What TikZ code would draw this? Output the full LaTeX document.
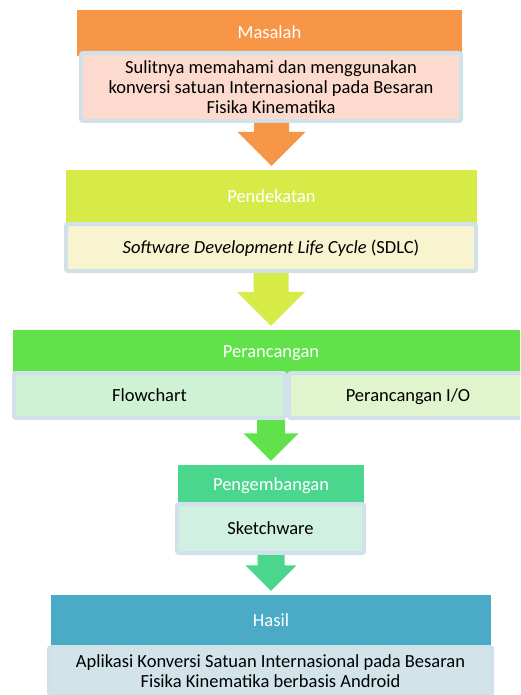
\documentclass[tikz,border=0pt]{standalone}
\usepackage{fontspec}
\setmainfont{Carlito}
\usetikzlibrary{calc}
\definecolor{oranye}{HTML}{F79646}
\definecolor{oranyemuda}{HTML}{FCDBCE}
\definecolor{limau}{HTML}{D7EB48}
\definecolor{limaumuda}{HTML}{F8F4D0}
\definecolor{hijau}{HTML}{61E24B}
\definecolor{hijaumuda}{HTML}{D0F2D4}
\definecolor{hijaukuning}{HTML}{E0F5CE}
\definecolor{toska}{HTML}{4BD68E}
\definecolor{toskamuda}{HTML}{D0F0E2}
\definecolor{biru}{HTML}{4BABC6}
\definecolor{birumuda}{HTML}{D2E3EA}
\definecolor{garis}{HTML}{D1E1E9}
% block arrow: from, to, colour, half shaft, half head
\newcommand{\panahblok}[5]{%
  \fill[#3] let \p1=(#1.south), \p2=(#2.north) in
    (\x2-#4,\y1) -- (\x2+#4,\y1) -- (\x2+#4,\y2+4pt+#5) -- (\x2+#5,\y2+4pt+#5)
    -- (\x2,\y2+4pt) -- (\x2-#5,\y2+4pt+#5) -- (\x2-#4,\y2+4pt+#5) -- cycle;}
\begin{document}
\begin{tikzpicture}[x=1pt,y=-1pt,every node/.style={font=\fontsize{18.5}{20}\selectfont}]
	\tikzstyle{kepala} = [rectangle,text=white,inner sep=0pt,text height=1.1em,text depth=0em]
	\tikzstyle{isi} = [rectangle,draw=garis,line width=4pt,rounded corners=2pt,inner sep=0pt,align=center]
	\tikzstyle{satu} = [text height=1.1em,text depth=0em]
	\useasboundingbox (0,0) rectangle (520,695);
	\clip (0,0) rectangle (520,695);
	% headers
	\node[kepala,fill=oranye,minimum width=385,minimum height=46](masalah)at(269.5,33){Masalah};
	\node[kepala,fill=limau,minimum width=411,minimum height=53](pendekatan)at(271.5,196.5){Pendekatan};
	\node[kepala,fill=hijau,minimum width=516,minimum height=44](perancangan)at(271,352){Perancangan};
	\node[kepala,fill=toska,minimum width=186,minimum height=40](pengembangan)at(271,485){Pengembangan};
	\node[kepala,fill=biru,minimum width=440,minimum height=52](hasil)at(271,621){Hasil};
	% contents
	\node[isi,fill=oranyemuda,minimum width=380,minimum height=68](sulit)at(271,87)
		{Sulitnya memahami dan menggunakan\\konversi satuan Internasional pada Besaran\\Fisika Kinematika};
	\node[isi,satu,fill=limaumuda,minimum width=410,minimum height=47](sdlc)at(271,247.5)
		{\textit{Software Development Life Cycle} (SDLC)};
	\node[isi,satu,fill=hijaumuda,minimum width=271,minimum height=45](flow)at(149.5,395.5){Flowchart};
	\node[isi,satu,fill=hijaukuning,minimum width=238,minimum height=45](io)at(408,395.5){Perancangan I/O};
	\node[isi,satu,fill=toskamuda,minimum width=187,minimum height=49](sketch)at(270.5,528.5){Sketchware};
	\node[isi,fill=birumuda,minimum width=443,minimum height=48](aplikasi)at(270.5,671)
		{Aplikasi Konversi Satuan Internasional pada Besaran\\Fisika Kinematika berbasis Android};
	% arrows
	\panahblok{sulit}{pendekatan}{oranye}{17.5pt}{34pt}
	\panahblok{sdlc}{perancangan}{limau}{17.5pt}{34pt}
	\panahblok{flow}{pengembangan}{hijau}{14pt}{27.5pt}
	\panahblok{sketch}{hasil}{toska}{13.5pt}{25.5pt}
\end{tikzpicture}
\end{document}
